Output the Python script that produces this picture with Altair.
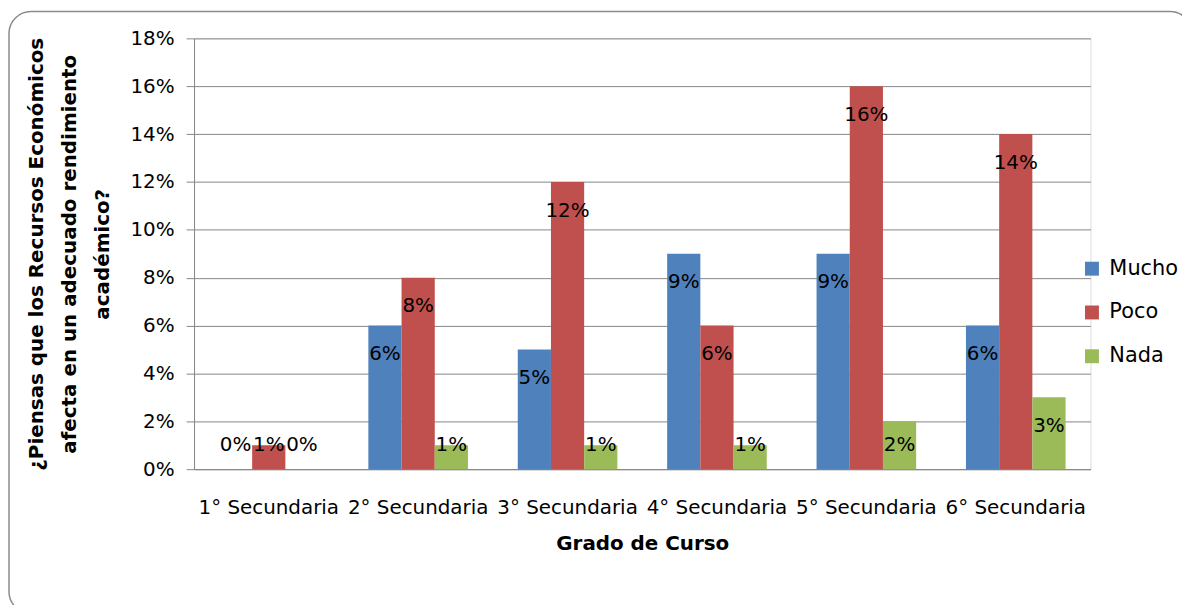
import altair as alt
import pandas as pd

grados = ["1° Secundaria", "2° Secundaria", "3° Secundaria", "4° Secundaria", "5° Secundaria", "6° Secundaria"]
series = ["Mucho", "Poco", "Nada"]
mucho = [0, 6, 5, 9, 9, 6]
poco = [1, 8, 12, 6, 16, 14]
nada = [0, 1, 1, 1, 2, 3]
colors = ["#4F81BD", "#C0504D", "#9BBB59"]
y_ticks = [0, 2, 4, 6, 8, 10, 12, 14, 16, 18]

rows = []
for name, vals in zip(series, [mucho, poco, nada]):
    for g, v in zip(grados, vals):
        rows.append({"grado": g, "serie": name, "valor": v})
df = pd.DataFrame(rows)

FONT = "DejaVu Sans"

x_enc = alt.X("grado:N", sort=grados,
              scale=alt.Scale(paddingInner=0.3333, paddingOuter=0.1667),
              axis=alt.Axis(title="Grado de Curso", labelAngle=0, labelFontSize=20,
                            labelPadding=29, ticks=False, domainColor="#868686",
                            titleFontSize=20, titleFontWeight="bold", titlePadding=16,
                            labelFont=FONT, titleFont=FONT, labelColor="black",
                            titleColor="black", grid=False))
xoff = alt.XOffset("serie:N", sort=series, scale=alt.Scale(paddingInner=0, paddingOuter=0))

bars = alt.Chart(df).mark_bar().encode(
    x=x_enc,
    xOffset=xoff,
    y=alt.Y("valor:Q", scale=alt.Scale(domain=[0, 18], nice=False),
            axis=alt.Axis(values=y_ticks, labelExpr="datum.value + '%'",
                          title=["¿Piensas que los Recursos Económicos",
                                 "afecta en un adecuado rendimiento",
                                 "académico?"],
                          titleFontSize=20, titleFontWeight="bold", titleLineHeight=33,
                          titlePadding=18, labelFontSize=20, labelPadding=12,
                          tickSize=8, tickColor="#868686", domainColor="#868686",
                          gridColor="#868686", labelFont=FONT, titleFont=FONT,
                          labelColor="black", titleColor="black")),
    color=alt.Color("serie:N", sort=series,
                    scale=alt.Scale(domain=series, range=colors),
                    legend=alt.Legend(title=None, orient="none", legendX=892, legendY=221,
                                      symbolType="square", symbolSize=196,
                                      symbolStrokeWidth=0, labelFontSize=21,
                                      labelFont=FONT, labelColor="black",
                                      rowPadding=22, labelOffset=7, padding=0)),
)

labels = alt.Chart(df).transform_calculate(
    ly="max(datum.valor - 1.2, 1.0)",
    txt="datum.valor + '%'",
).mark_text(fontSize=20, font=FONT, color="black", baseline="middle").encode(
    x=alt.X("grado:N", sort=grados),
    xOffset=xoff,
    y=alt.Y("ly:Q"),
    text="txt:N",
)

frame = alt.Chart(pd.DataFrame({"a": [0]})).mark_rect(
    fill=None, fillOpacity=0, stroke="#8c8c8c", strokeWidth=1.5, cornerRadius=22
).encode(
    x=alt.value(-186), x2=alt.value(1003), y=alt.value(-27), y2=alt.value(578)
)

chart = alt.layer(frame, bars, labels).properties(
    width=901, height=433,
    autosize=alt.AutoSizeParams(type="none"),
    padding={"left": 187, "top": 29, "right": 92, "bottom": 135},
).configure_view(stroke=None).configure(background="white")

chart.save("out.html", embed_options={"renderer": "svg", "actions": False})
